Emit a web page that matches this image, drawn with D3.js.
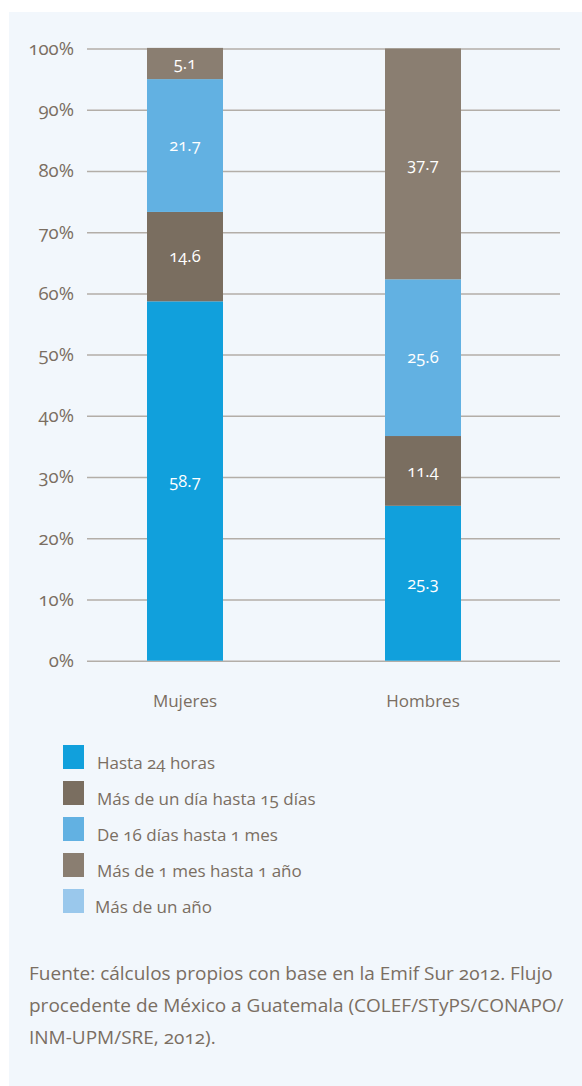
<!DOCTYPE html>
<html><head><meta charset="utf-8">
<script src="https://cdn.jsdelivr.net/npm/d3@7"></script>
<style>
body{margin:0;background:#fff;}
svg{display:block;font-family:"Open Sans",sans-serif;font-feature-settings:"onum";}
</style></head><body>
<svg id="c" width="582" height="1086"></svg>
<script>
const categories = ["Mujeres", "Hombres"];
const seriesNames = ["Hasta 24 horas", "Más de un día hasta 15 días", "De 16 días hasta 1 mes", "Más de 1 mes hasta 1 año", "Más de un año"];
const hasta24 = [58.7, 25.3];
const dia15 = [14.6, 11.4];
const mes1 = [21.7, 25.6];
const anio1 = [5.1, 37.7];
const masAnio = [0, 0];
const yTicks = [0, 10, 20, 30, 40, 50, 60, 70, 80, 90, 100];
const colors = ["#11a0dc", "#7a6e60", "#62b1e2", "#8a7e71", "#9ac8ec"];
const source = ["Fuente: cálculos propios con base en la Emif Sur 2012. Flujo",
  "procedente de México a Guatemala (COLEF/STyPS/CONAPO/",
  "INM-UPM/SRE, 2012)."];

const seriesVals = [hasta24, dia15, mes1, anio1, masAnio];
const table = categories.map((c, i) => {
  const o = {cat: c};
  seriesNames.forEach((s, k) => o[s] = seriesVals[k][i]);
  return o;
});
const stack = d3.stack().keys(seriesNames)(table);

const svg = d3.select("#c");
svg.append("rect").attr("x", 9).attr("y", 12).attr("width", 573).attr("height", 1074).attr("fill", "#f2f7fc");

const y = d3.scaleLinear().domain([0, 100]).range([660.7, 48.5]);
const x = d3.scaleBand().domain(categories).range([147, 461]).paddingInner(0.6807).paddingOuter(0);
const textCol = "#7a6e62";

// grid
const grid = svg.append("g").attr("transform", "translate(87,0)")
  .call(d3.axisLeft(y).tickValues(yTicks).tickSize(-473).tickFormat(d => d + "%").tickPadding(13));
grid.select(".domain").remove();
grid.selectAll(".tick line").attr("stroke", "#b3aea8").attr("stroke-width", 1.5);
grid.selectAll(".tick text").attr("fill", textCol).attr("font-size", 18.5).attr("font-family", "Open Sans");

// bars
const layers = svg.append("g").selectAll("g").data(stack).join("g").attr("fill", (d, i) => colors[i]);
layers.selectAll("rect").data(d => d).join("rect")
  .attr("x", d => x(d.data.cat)).attr("width", x.bandwidth())
  .attr("y", d => y(d[1])).attr("height", d => y(d[0]) - y(d[1]));
layers.selectAll("text").data(d => d.filter(v => v[1] - v[0] > 0)).join("text")
  .attr("x", d => x(d.data.cat) + x.bandwidth() / 2)
  .attr("y", d => (y(d[0]) + y(d[1])) / 2)
  .attr("dy", "0.35em").attr("text-anchor", "middle").attr("fill", "#fff").attr("font-size", 16.5)
  .text(d => (d[1] - d[0]).toFixed(1));

// category labels
svg.append("g").selectAll("text").data(categories).join("text")
  .attr("x", d => x(d) + x.bandwidth() / 2).attr("y", 707)
  .attr("text-anchor", "middle").attr("fill", textCol).attr("font-size", 17).text(d => d);

// legend
const lg = svg.append("g").selectAll("g").data(seriesNames).join("g")
  .attr("transform", (d, i) => `translate(63,${745 + i * 36})`);
lg.append("rect").attr("width", 21).attr("height", 24).attr("fill", (d, i) => colors[i]);
lg.append("text").attr("x", (d, i) => i === 4 ? 32 : 34).attr("y", 24).attr("fill", textCol).attr("font-size", 17).text(d => d);

// source
svg.append("g").selectAll("text").data(source).join("text")
  .attr("x", 29).attr("y", (d, i) => 980 + i * 32).attr("fill", textCol).attr("font-size", 19).text(d => d);
</script></body></html>
